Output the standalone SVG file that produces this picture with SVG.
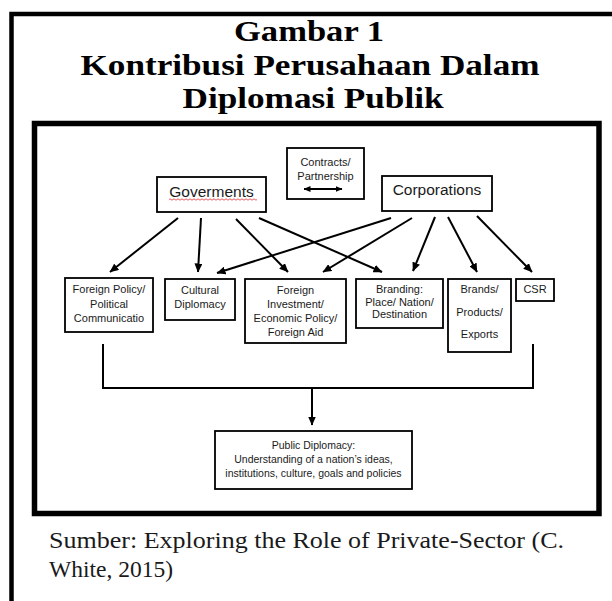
<svg xmlns="http://www.w3.org/2000/svg" width="612" height="601" viewBox="0 0 612 601">
<defs>
<marker id="ah" markerUnits="userSpaceOnUse" markerWidth="9" markerHeight="8" refX="8.5" refY="4" orient="auto"><path d="M0,0 L9,4 L0,8 z" fill="#000"/></marker>
<marker id="ahs" markerUnits="userSpaceOnUse" markerWidth="7" markerHeight="6" refX="6.5" refY="3" orient="auto-start-reverse"><path d="M0,0 L7,3 L0,6 z" fill="#000"/></marker>
<style>
.box{fill:#fff;stroke:#000;stroke-width:1.8}
.t{font-family:"Liberation Sans",Arial,sans-serif;fill:#1a1a1a;text-anchor:middle}
.s{font-size:11px}
.l{font-size:15.5px}
.c{stroke:#000;stroke-width:2;fill:none}
.title{font-family:"Liberation Serif","Times New Roman",serif;font-weight:bold;font-size:30px;text-anchor:middle;fill:#000}
.cap{font-family:"Liberation Serif","Times New Roman",serif;font-size:24px;fill:#1a1a1a}
</style>
</defs>
<rect width="612" height="601" fill="#fff"/>
<path d="M11.5 601 V14 H612" fill="none" stroke="#000" stroke-width="4.5"/>
<g id="title">
<text class="title" x="309" y="41" textLength="150" lengthAdjust="spacingAndGlyphs">Gambar 1</text>
<text class="title" x="310" y="74.5" textLength="459" lengthAdjust="spacingAndGlyphs">Kontribusi Perusahaan Dalam</text>
<text class="title" x="313" y="108" textLength="261" lengthAdjust="spacingAndGlyphs">Diplomasi Publik</text>
</g>
<rect x="34.5" y="123.5" width="564.5" height="390" fill="none" stroke="#000" stroke-width="5.5"/>
<g id="connectors">
<line class="c" x1="178" y1="218" x2="110" y2="272" marker-end="url(#ah)"/>
<line class="c" x1="201" y1="218" x2="198" y2="272" marker-end="url(#ah)"/>
<line class="c" x1="236" y1="219" x2="288" y2="272" marker-end="url(#ah)"/>
<line class="c" x1="259" y1="218" x2="382" y2="272" marker-end="url(#ah)"/>
<line class="c" x1="391" y1="218" x2="217" y2="273" marker-end="url(#ah)"/>
<line class="c" x1="412" y1="218" x2="323" y2="272" marker-end="url(#ah)"/>
<line class="c" x1="435" y1="217" x2="413" y2="271" marker-end="url(#ah)"/>
<line class="c" x1="448" y1="217" x2="477" y2="272" marker-end="url(#ah)"/>
<line class="c" x1="477" y1="216" x2="532" y2="272" marker-end="url(#ah)"/>
<path class="c" d="M103 344 V388 H533 V344"/>
<line class="c" x1="312" y1="388" x2="312" y2="425" marker-end="url(#ah)"/>
</g>
<g id="contracts">
<rect class="box" x="287" y="148" width="77" height="51"/>
<text class="t s" x="325.5" y="166">Contracts/</text>
<text class="t s" x="325.5" y="180">Partnership</text>
<line x1="304" y1="189" x2="342" y2="189" stroke="#000" stroke-width="2" marker-start="url(#ahs)" marker-end="url(#ahs)"/>
</g>
<g id="goverments">
<rect class="box" x="157" y="177" width="109" height="35"/>
<text class="t l" x="211.5" y="197">Goverments</text>
<path d="M169 199.5 q1 -1.4 2 0 t2 0 t2 0 t2 0 t2 0 t2 0 t2 0 t2 0 t2 0 t2 0 t2 0 t2 0 t2 0 t2 0 t2 0 t2 0 t2 0 t2 0 t2 0 t2 0 t2 0 t2 0 t2 0 t2 0 t2 0 t2 0 t2 0 t2 0 t2 0 t2 0 t2 0 t2 0 t2 0 t2 0 t2 0 t2 0 t2 0 t2 0 t2 0 t2 0 t2 0 t2 0 t2 0 t2 0" fill="none" stroke="#e03030" stroke-width="0.8"/>
</g>
<g id="corporations">
<rect class="box" x="382" y="176" width="110" height="35"/>
<text class="t l" x="437" y="195">Corporations</text>
</g>
<g id="foreign-policy">
<rect class="box" x="65" y="278" width="88" height="54"/>
<text class="t s" x="109" y="293">Foreign Policy/</text>
<text class="t s" x="109" y="308">Political</text>
<text class="t s" x="109" y="322">Communicatio</text>
</g>
<g id="cultural">
<rect class="box" x="165" y="279" width="70" height="41"/>
<text class="t s" x="200" y="294">Cultural</text>
<text class="t s" x="200" y="308">Diplomacy</text>
</g>
<g id="foreign-investment">
<rect class="box" x="245" y="279" width="101" height="64"/>
<text class="t s" x="295.5" y="294">Foreign</text>
<text class="t s" x="295.5" y="308">Investment/</text>
<text class="t s" x="295.5" y="322">Economic Policy/</text>
<text class="t s" x="295.5" y="336">Foreign Aid</text>
</g>
<g id="branding">
<rect class="box" x="356" y="279" width="87" height="49"/>
<text class="t s" x="399.5" y="293">Branding:</text>
<text class="t s" x="399.5" y="306">Place/ Nation/</text>
<text class="t s" x="399.5" y="318">Destination</text>
</g>
<g id="brands">
<rect class="box" x="448" y="279" width="63" height="73"/>
<text class="t s" x="479.5" y="293">Brands/</text>
<text class="t s" x="479.5" y="316">Products/</text>
<text class="t s" x="479.5" y="338">Exports</text>
</g>
<g id="csr">
<rect class="box" x="516" y="279" width="38" height="22"/>
<text class="t s" x="535" y="293">CSR</text>
</g>
<g id="public-diplomacy">
<rect class="box" x="215" y="431" width="197" height="58"/>
<text class="t" style="font-size:10.5px" x="313.5" y="449">Public Diplomacy:</text>
<text class="t" style="font-size:10.5px" x="313.5" y="463">Understanding of a nation’s ideas,</text>
<text class="t" style="font-size:10.5px" x="313.5" y="477">institutions, culture, goals and policies</text>
</g>
<g id="caption">
<text class="cap" x="49" y="548" textLength="515" lengthAdjust="spacingAndGlyphs">Sumber: Exploring the Role of Private-Sector (C.</text>
<text class="cap" x="49" y="577" textLength="124" lengthAdjust="spacingAndGlyphs">White, 2015)</text>
</g>
</svg>
